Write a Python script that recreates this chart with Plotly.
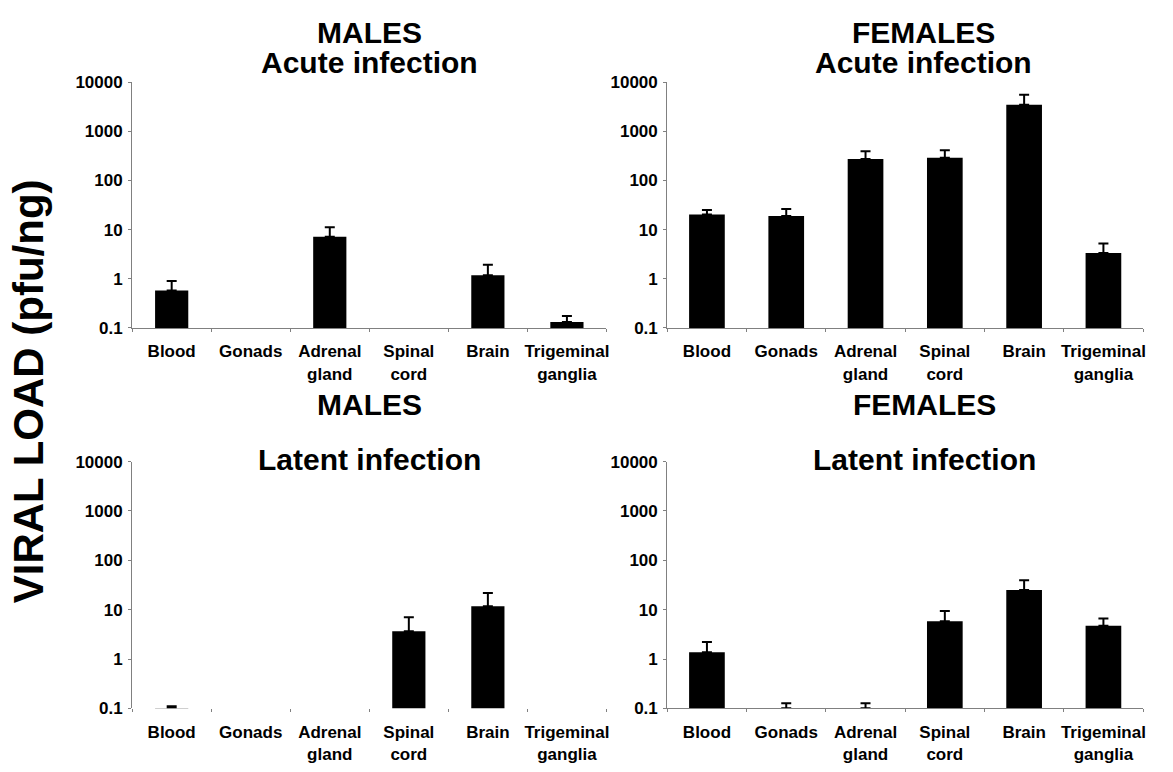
import plotly.graph_objects as go

W, H = 1173, 772

categories = ["Blood", "Gonads", "Adrenal<br>gland", "Spinal<br>cord", "Brain", "Trigeminal<br>ganglia"]
y_tickvals = [0.1, 1, 10, 100, 1000, 10000]
y_ticktext = ["0.1", "1", "10", "100", "1000", "10000"]

# Means (bar heights) and upper end of error bars, pfu/ng
males_acute = [0.58, None, 7.15, None, 1.18, 0.132]
males_acute_top = [0.90, None, 11.2, None, 1.93, 0.176]

females_acute = [20.2, 19.0, 272, 289, 3450, 3.36]
females_acute_top = [25.0, 26.2, 392, 410, 5520, 5.2]

males_latent = [0.1, None, None, 3.66, 11.7, None]
males_latent_top = [0.11, None, None, 7.0, 21.8, None]

females_latent = [1.37, 0.1, 0.1, 5.85, 25.0, 4.74]
females_latent_top = [2.22, 0.127, 0.127, 9.35, 39.4, 6.6]

panel_titles = [("MALES", "Acute infection"), ("FEMALES", "Acute infection"),
                ("MALES", "Latent infection"), ("FEMALES", "Latent infection")]

FONT = "Liberation Sans, Arial, Helvetica, sans-serif"
GREY = "#808080"


def px_x(p):
    return p / W


def px_y(p):
    return 1 - p / H


def errs(vals, tops):
    return [None if v is None else t - v for v, t in zip(vals, tops)]


fig = go.Figure()

panels = [
    (males_acute, males_acute_top, "x", "y", 0.42),
    (females_acute, females_acute_top, "x2", "y2", 0.45),
    (males_latent, males_latent_top, "x3", "y3", 0.42),
    (females_latent, females_latent_top, "x4", "y4", 0.45),
]
for vals, tops, xa, ya, wd in panels:
    fig.add_trace(go.Bar(
        x=categories, y=vals, xaxis=xa, yaxis=ya, width=wd,
        marker=dict(color="black", line=dict(width=0)),
        error_y=dict(type="data", symmetric=False, array=errs(vals, tops),
                     arrayminus=[0] * len(vals), color="black", thickness=2, width=5),
        showlegend=False, hoverinfo="skip",
    ))

xdom_l = [px_x(132.5), px_x(608)]
xdom_r = [px_x(669), px_x(1146)]
ydom_t = [px_y(327), px_y(75)]
ydom_b = [px_y(717), px_y(464)]

tickfont = dict(family=FONT, size=17, color="black", weight=700)


def xaxis(dom, anchor, linecolor=GREY):
    return dict(domain=dom, anchor=anchor, type="category", tickson="boundaries",
                ticks="outside", ticklen=3, tickcolor=GREY, tickwidth=1,
                showline=True, linecolor=linecolor, linewidth=1.2,
                showgrid=False, zeroline=False, tickfont=tickfont,
                ticklabelstandoff=8, tickangle=0, fixedrange=True)


def yaxis(dom, anchor):
    return dict(domain=dom, anchor=anchor, type="log", range=[-1, 4],
                tickvals=y_tickvals, ticktext=y_ticktext,
                ticks="outside", ticklen=3, tickcolor=GREY, tickwidth=1,
                showline=True, linecolor=GREY, linewidth=1.2,
                showgrid=False, zeroline=False, tickfont=tickfont,
                ticklabelstandoff=2, fixedrange=True)


fig.update_layout(
    width=W, height=H, margin=dict(l=0, r=0, t=0, b=0),
    paper_bgcolor="white", plot_bgcolor="white",
    xaxis=xaxis(xdom_l, "y"), yaxis=yaxis(ydom_t, "x"),
    xaxis2=xaxis(xdom_r, "y2"), yaxis2=yaxis(ydom_t, "x2"),
    xaxis3=xaxis(xdom_l, "y3", linecolor="rgba(0,0,0,0)"), yaxis3=yaxis(ydom_b, "x3"),
    xaxis4=xaxis(xdom_r, "y4"), yaxis4=yaxis(ydom_b, "x4"),
)

title_font = dict(family=FONT, size=30, color="black", weight=700)
title_pos = [
    ((370, 24), (370, 55)),
    ((926, 24), (926, 55)),
    ((370, 405), (370, 462)),
    ((927, 405), (927, 462)),
]
for (t1, t2), ((x1, y1), (x2, y2)) in zip(panel_titles, title_pos):
    fig.add_annotation(text=t1, x=px_x(x1), y=px_y(y1), xref="paper", yref="paper",
                       showarrow=False, xanchor="center", yanchor="middle", font=title_font)
    fig.add_annotation(text=t2, x=px_x(x2), y=px_y(y2), xref="paper", yref="paper",
                       showarrow=False, xanchor="center", yanchor="middle", font=title_font)

fig.add_annotation(text="VIRAL LOAD (pfu/ng)", x=px_x(28), y=px_y(392), xref="paper", yref="paper",
                   showarrow=False, xanchor="center", yanchor="middle", textangle=-90,
                   font=dict(family=FONT, size=42, color="black", weight=700))

fig.write_html("out.html", config={"displayModeBar": False},
               post_script="document.body.style.margin='0';")
